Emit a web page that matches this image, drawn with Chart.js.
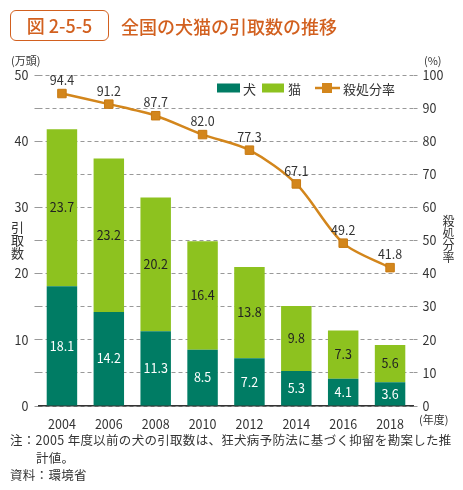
<!DOCTYPE html>
<html lang="ja">
<head>
<meta charset="UTF-8">
<title>全国の犬猫の引取数の推移</title>
<script src="https://cdn.jsdelivr.net/npm/chart.js"></script>
<style>
  body { margin: 0; background: #fff; font-family: "Noto Sans CJK JP", "Noto Sans", sans-serif; color: #333; }
  #wrap { position: relative; width: 463px; height: 490px; overflow: hidden; }
  #chart { position: absolute; left: 0; top: 0; }
  .abs { position: absolute; white-space: nowrap; }
  .fig { left: 10px; top: 10px; width: 97px; height: 29px; border: 1.5px solid #d2601f; border-radius: 6px;
         color: #d2601f; font-size: 18px; line-height: 29px; text-align: center; font-weight: 500; }
  .title { left: 121px; top: 13px; color: #d2601f; font-size: 18px; line-height: 26px; font-weight: 500; }
  .unit { font-size: 11px; color: #333; }
  .vert { writing-mode: vertical-rl; font-size: 13px; line-height: 14px; color: #333; }
  .note { left: 10px; font-size: 12.5px; color: #333; line-height: 16px; letter-spacing: 0.3px; }
</style>
</head>
<body>
<div id="wrap">
  <canvas id="chart" width="463" height="490"></canvas>
  <div class="abs fig">図 2-5-5</div>
  <div class="abs title">全国の犬猫の引取数の推移</div>
  <div class="abs unit" style="left:11px; top:52px;">(万頭)</div>
  <div class="abs unit" style="left:424px; top:52px;">(%)</div>
  <div class="abs unit" style="left:419px; top:411px;">(年度)</div>
  <div class="abs vert" style="left:10px; top:221px;">引取数</div>
  <div class="abs vert" style="left:441px; top:215px; font-size:12px; line-height:14px;">殺処分率</div>
  <div class="abs note" style="top:432px;">注：2005 年度以前の犬の引取数は、狂犬病予防法に基づく抑留を勘案した推</div>
  <div class="abs note" style="top:450px; left:36px;">計値。</div>
  <div class="abs note" style="top:467px;">資料：環境省</div>
</div>
<script>
const years = ['2004', '2006', '2008', '2010', '2012', '2014', '2016', '2018'];
const dogs = [18.1, 14.2, 11.3, 8.5, 7.2, 5.3, 4.1, 3.6];
const cats = [23.7, 23.2, 20.2, 16.4, 13.8, 9.8, 7.3, 5.6];
const killRate = [94.4, 91.2, 87.7, 82.0, 77.3, 67.1, 49.2, 41.8];

const DOG = '#007c64';
const CAT = '#8dc21f';
const ORANGE = '#d3861c';
const FONT = '"Noto Sans CJK JP", "Noto Sans", sans-serif';

// value labels + legend drawn straight on the canvas
const labelPlugin = {
  id: 'labels',
  afterDatasetsDraw(chart) {
    const ctx = chart.ctx;
    ctx.save();
    ctx.font = '12.5px ' + FONT;
    ctx.textAlign = 'center';
    ctx.textBaseline = 'middle';
    chart.data.datasets.forEach((ds, i) => {
      const meta = chart.getDatasetMeta(i);
      meta.data.forEach((el, j) => {
        const v = ds.data[j].toFixed(1);
        if (ds.type === 'line') {
          ctx.fillStyle = '#333';
          ctx.fillText(v, el.x, el.y - 13);
        } else {
          ctx.fillStyle = ds.label === '犬' ? '#fff' : '#222';
          ctx.fillText(v, el.x, (el.y + el.base) / 2);
        }
      });
    });

    // legend
    const ly = 88;
    ctx.textAlign = 'left';
    ctx.fillStyle = DOG;
    ctx.fillRect(217, ly - 4.5, 23, 9);
    ctx.fillStyle = CAT;
    ctx.fillRect(262, ly - 4.5, 22, 9);
    ctx.strokeStyle = ORANGE;
    ctx.lineWidth = 2.5;
    ctx.beginPath();
    ctx.moveTo(315, ly);
    ctx.lineTo(340, ly);
    ctx.stroke();
    ctx.fillStyle = ORANGE;
    ctx.fillRect(322, ly - 5, 10, 10);
    ctx.fillStyle = '#333';
    ctx.font = '13px ' + FONT;
    ctx.fillText('犬', 243, ly + 1);
    ctx.fillText('猫', 288, ly + 1);
    ctx.fillText('殺処分率', 343, ly + 1);
    ctx.restore();
  }
};

new Chart(document.getElementById('chart'), {
  data: {
    labels: years,
    datasets: [
      {
        type: 'line',
        label: '殺処分率',
        data: killRate,
        yAxisID: 'y2',
        borderColor: ORANGE,
        borderWidth: 2.5,
        tension: 0.3,
        pointStyle: 'rect',
        pointRadius: 6,
        pointBackgroundColor: ORANGE,
        pointBorderColor: '#c87a12',
        pointBorderWidth: 1,
        order: 0
      },
      {
        type: 'bar',
        label: '犬',
        data: dogs,
        backgroundColor: DOG,
        yAxisID: 'y',
        stack: 's',
        barPercentage: 0.65,
        categoryPercentage: 1,
        order: 1
      },
      {
        type: 'bar',
        label: '猫',
        data: cats,
        backgroundColor: CAT,
        yAxisID: 'y',
        stack: 's',
        barPercentage: 0.65,
        categoryPercentage: 1,
        order: 1
      }
    ]
  },
  options: {
    responsive: false,
    animation: false,
    layout: { padding: { top: 75, left: 0, right: 0, bottom: 0 } },
    plugins: { legend: { display: false }, tooltip: { enabled: false } },
    scales: {
      x: {
        stacked: true,
        grid: { display: false },
        border: { color: '#333', width: 1.5 },
        ticks: { color: '#333', font: { family: FONT, size: 12.5 }, padding: 3 },
        afterFit(scale) { scale.height = 84; }
      },
      y: {
        position: 'left',
        stacked: true,
        min: 0,
        max: 50,
        ticks: {
          stepSize: 5,
          color: '#333',
          padding: 6,
          font: { family: FONT, size: 12.5 },
          callback: v => (v % 10 === 0 ? v : '')
        },
        grid: { drawOnChartArea: false, tickLength: 4, color: '#999' },
        border: { display: false },
        afterFit(scale) { scale.width = 38.5; }
      },
      y2: {
        position: 'right',
        min: 0,
        max: 100,
        ticks: { stepSize: 10, color: '#333', padding: 5, font: { family: FONT, size: 12.5 } },
        grid: { color: '#999', tickLength: 4 },
        border: { display: false, dash: [4, 3] },
        afterFit(scale) { scale.width = 49.5; }
      }
    }
  },
  plugins: [labelPlugin]
});
</script>
</body>
</html>
